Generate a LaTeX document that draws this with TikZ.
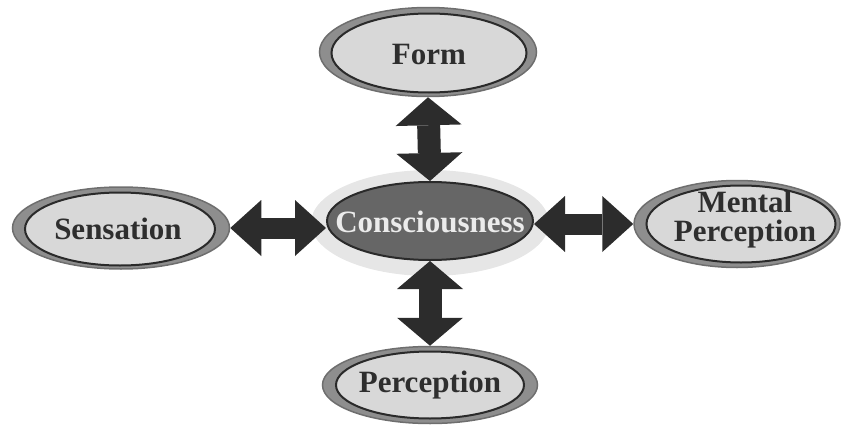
\documentclass[tikz,border=0pt]{standalone}
\usepackage{fontspec}
\setmainfont{Liberation Serif}
\usetikzlibrary{arrows.meta,shapes.geometric}
\definecolor{ringgray}{HTML}{8E8E8E}
\definecolor{ringdark}{HTML}{6E6E6E}
\definecolor{lightfill}{HTML}{D8D8D8}
\definecolor{outline}{HTML}{2A2A2A}
\definecolor{textdark}{HTML}{2E2E2E}
\definecolor{consfill}{HTML}{666666}
\definecolor{halo}{HTML}{E6E6E6}
\definecolor{arrowdark}{HTML}{2C2C2C}
\begin{document}
\begin{tikzpicture}[x=1pt,y=-1pt,
  ring/.style={ellipse, fill=ringgray, draw=ringdark, line width=1.5pt, inner sep=0pt},
  innerell/.style={ellipse, fill=lightfill, draw=outline, line width=2pt, inner sep=0pt},
  consell/.style={ellipse, fill=consfill, draw=outline, line width=2pt, inner sep=0pt},
  haloell/.style={ellipse, fill=halo, inner sep=0pt},
  lbl/.style={inner sep=0pt, font=\bfseries\fontsize{31}{29}\selectfont, text=textdark, align=center},
  vbig/.style={line width=23pt, draw=arrowdark,
    {Triangle[length=28pt,width=66pt,line width=0pt]}-{Triangle[length=28pt,width=66pt,line width=0pt]}},
  hbig/.style={line width=21pt, draw=arrowdark,
    {Triangle[length=31pt,width=56pt,line width=0pt]}-{Triangle[length=31pt,width=56pt,line width=0pt]}}]
\useasboundingbox (0,0) rectangle (841,431);
% Form
\node[ring, minimum width=217pt, minimum height=89pt] (form) at (428,52) {};
\node[innerell, minimum width=195pt, minimum height=79pt] (formin) at (429,53) {};
\node[lbl] (formt) at (429,55) {Form};
% Sensation
\node[ring, minimum width=217pt, minimum height=82pt] (sens) at (121,228) {};
\node[innerell, minimum width=190pt, minimum height=73pt] (sensin) at (120,229) {};
\node[lbl] (senst) at (118,229) {Sensation};
% Mental Perception
\node[ring, minimum width=206pt, minimum height=87pt] (ment) at (737,224) {};
\node[innerell, minimum width=189pt, minimum height=77pt] (mentin) at (741,224) {};
\node[lbl] (mentt) at (745,220) {Mental\\Perception};
% Perception
\node[ring, minimum width=215pt, minimum height=77pt] (perc) at (430,385) {};
\node[innerell, minimum width=188pt, minimum height=67pt] (percin) at (430,385) {};
\node[lbl] (perct) at (430,385) {Perception};
% Consciousness
\node[haloell, minimum width=238pt, minimum height=106pt] (halo) at (430,223) {};
\node[consell, minimum width=206pt, minimum height=78pt] (cons) at (430,221) {};
\node[lbl, text=white!92!black] (const) at (430,222) {Consciousness};
% arrows
\draw[vbig] (form.south) -- (cons.north);
\draw[vbig] (cons.south) -- (perc.north);
\draw[hbig] (sens.east) -- (sens.east -| cons.west);
\draw[hbig] (ment.west -| cons.east) -- (ment.west);
\end{tikzpicture}
\end{document}
